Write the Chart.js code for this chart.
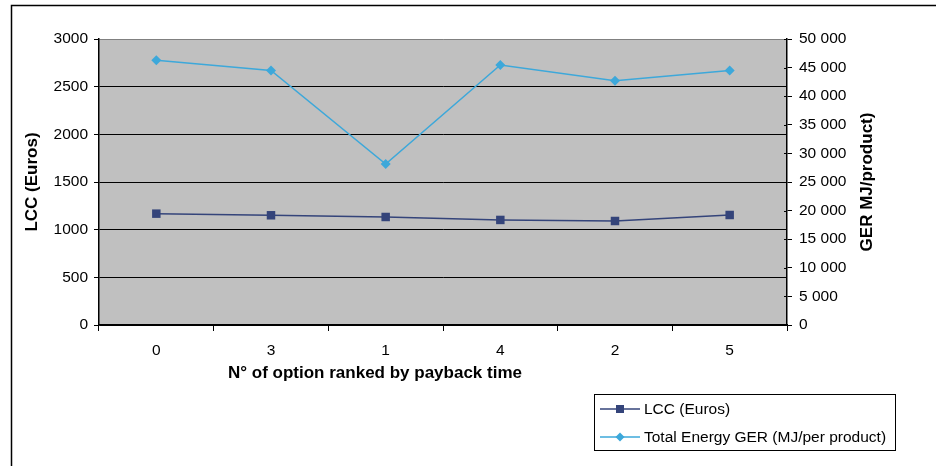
<!DOCTYPE html>
<html>
<head>
<meta charset="utf-8">
<script src="https://cdn.jsdelivr.net/npm/chart.js@4/dist/chart.umd.min.js"></script>
<style>
html,body{margin:0;padding:0;background:#fff;}
#wrap{width:936px;height:466px;position:relative;}
</style>
</head>
<body>
<div id="wrap"><canvas id="c" width="936" height="466"></canvas></div>
<script>
const categories = ['0', '3', '1', '4', '2', '5'];
const lccValues = [1168, 1151, 1133, 1102, 1091, 1154];
const gerValues = [46300, 44500, 28150, 45450, 42700, 44500];
const seriesNames = ['LCC (Euros)', 'Total Energy GER (MJ/per product)'];
const leftTitle = 'LCC (Euros)';
const rightTitle = 'GER MJ/product)';
const xTitle = 'N° of option ranked by payback time';

const FONT = '"Liberation Sans", Arial, sans-serif';
const TICK_SIZE = 15.5;
const TITLE_SIZE = 17;
const LCC_COLOR = '#34447A';
const GER_COLOR = '#3DA8DA';

function fmtSpace(v) {
  return String(v).replace(/\B(?=(\d{3})+(?!\d))/g, ' ');
}

const decor = {
  id: 'decor',
  beforeDraw(chart) {
    const {ctx, chartArea: a} = chart;
    ctx.save();
    ctx.fillStyle = '#C0C0C0';
    ctx.fillRect(a.left, a.top, a.right - a.left, a.bottom - a.top);
    ctx.strokeStyle = '#000';
    ctx.lineWidth = 1.5;
    ctx.beginPath();
    ctx.moveTo(11.5, 466);
    ctx.lineTo(11.5, 5.5);
    ctx.lineTo(936, 5.5);
    ctx.stroke();
    ctx.restore();
  },
  afterDraw(chart) {
    const {ctx, chartArea: a} = chart;
    const yr = chart.scales.y1;
    ctx.save();
    ctx.strokeStyle = '#000';
    ctx.lineWidth = 1;
    yr.ticks.forEach(t => {
      const y = Math.round(yr.getPixelForValue(t.value)) + 0.5;
      ctx.beginPath();
      ctx.moveTo(a.right - 3, y);
      ctx.lineTo(a.right, y);
      ctx.stroke();
    });
    ctx.fillStyle = '#000';
    ctx.font = 'bold ' + TITLE_SIZE + 'px ' + FONT;
    ctx.textAlign = 'center';
    ctx.textBaseline = 'middle';
    // x axis title (sits left of the plot centre in the original)
    ctx.fillText(xTitle, 375, 373);
    // right axis title, reading bottom to top
    ctx.translate(867, (a.top + a.bottom) / 2);
    ctx.rotate(-Math.PI / 2);
    ctx.fillText(rightTitle, 0, 0);
    ctx.restore();

    ctx.save();
    const bx = 594.5, by = 394.5, bw = 301, bh = 56;
    ctx.fillStyle = '#fff';
    ctx.fillRect(bx, by, bw, bh);
    ctx.strokeStyle = '#000';
    ctx.lineWidth = 1;
    ctx.strokeRect(bx, by, bw, bh);
    ctx.font = TICK_SIZE + 'px ' + FONT;
    ctx.textBaseline = 'middle';
    ctx.textAlign = 'left';
    const rows = [409, 437];
    chart.data.datasets.forEach((ds, i) => {
      const y = rows[i];
      ctx.strokeStyle = ds.borderColor;
      ctx.lineWidth = 1.5;
      ctx.beginPath();
      ctx.moveTo(600, y);
      ctx.lineTo(640, y);
      ctx.stroke();
      ctx.fillStyle = ds.pointBackgroundColor;
      ctx.beginPath();
      if (ds.pointStyle === 'rect') {
        ctx.rect(616, y - 4, 8, 8);
      } else {
        ctx.moveTo(620, y - 4.5);
        ctx.lineTo(624.5, y);
        ctx.lineTo(620, y + 4.5);
        ctx.lineTo(615.5, y);
        ctx.closePath();
      }
      ctx.fill();
      ctx.fillStyle = '#000';
      ctx.fillText(ds.label, 644, y + 1);
    });
    ctx.restore();
  }
};

new Chart(document.getElementById('c'), {
  type: 'line',
  data: {
    labels: categories,
    datasets: [
      {
        label: seriesNames[0],
        data: lccValues,
        yAxisID: 'y',
        borderColor: LCC_COLOR,
        backgroundColor: LCC_COLOR,
        pointBackgroundColor: LCC_COLOR,
        pointBorderColor: LCC_COLOR,
        pointStyle: 'rect',
        pointRadius: 6,
        pointBorderWidth: 0,
        borderWidth: 1.5,
        tension: 0
      },
      {
        label: seriesNames[1],
        data: gerValues,
        yAxisID: 'y1',
        borderColor: GER_COLOR,
        backgroundColor: GER_COLOR,
        pointBackgroundColor: GER_COLOR,
        pointBorderColor: GER_COLOR,
        pointStyle: 'rectRot',
        pointRadius: 5,
        pointBorderWidth: 0,
        borderWidth: 1.5,
        tension: 0
      }
    ]
  },
  options: {
    responsive: false,
    animation: false,
    devicePixelRatio: 1,
    layout: {padding: {left: 20, top: 39, right: 49, bottom: 79}},
    plugins: {
      legend: {display: false},
      tooltip: {enabled: false}
    },
    scales: {
      x: {
        type: 'category',
        offset: true,
        grid: {
          offset: true,
          drawOnChartArea: false,
          drawTicks: true,
          tickLength: 6,
          color: '#000'
        },
        border: {color: '#000', width: 1.5},
        ticks: {color: '#000', font: {family: FONT, size: TICK_SIZE}, padding: 10, maxRotation: 0},
        title: {display: false},
        afterFit(s) { s.height = 62; }
      },
      y: {
        position: 'left',
        min: 0,
        max: 3000,
        ticks: {
          stepSize: 500,
          color: '#000',
          font: {family: FONT, size: TICK_SIZE},
          padding: 6,
          callback: v => String(v)
        },
        grid: {
          color: ctx => (ctx.tick && ctx.tick.value === 3000) ? '#808080' : '#000',
          tickColor: '#000',
          tickLength: 5,
          lineWidth: 1
        },
        border: {color: '#000', width: 1.5},
        title: {
          display: true,
          text: leftTitle,
          color: '#000',
          font: {family: FONT, size: TITLE_SIZE, weight: 'bold'},
          padding: {top: 2, bottom: 0}
        },
        afterFit(s) { s.width = 79; }
      },
      y1: {
        position: 'right',
        min: 0,
        max: 50000,
        ticks: {
          stepSize: 5000,
          color: '#000',
          font: {family: FONT, size: TICK_SIZE},
          padding: 7,
          callback: v => fmtSpace(v)
        },
        grid: {drawOnChartArea: false, tickLength: 5, color: '#000'},
        border: {color: '#000', width: 1.5},
        afterFit(s) { s.width = 100; }
      }
    }
  },
  plugins: [decor]
});
</script>
</body>
</html>
